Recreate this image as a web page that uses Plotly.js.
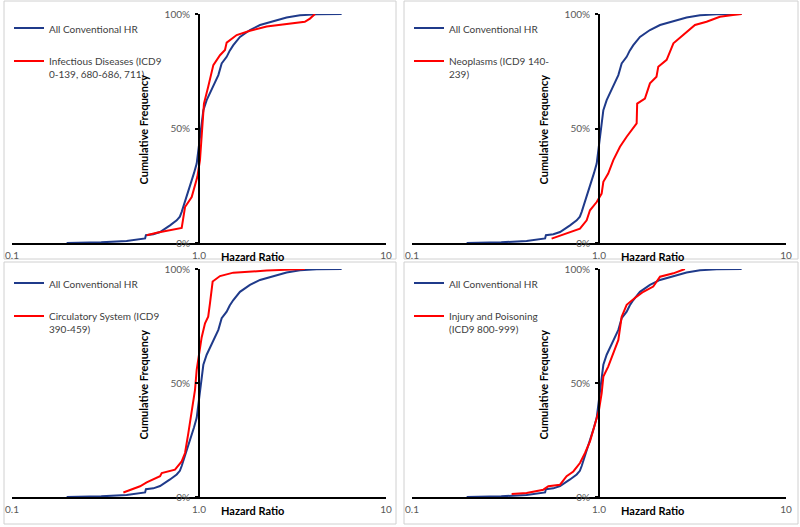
<!DOCTYPE html>
<html>
<head>
<meta charset="utf-8">
<script src="https://cdn.plot.ly/plotly-3.0.1.min.js"></script>
<style>html,body{margin:0;padding:0;background:#fff;}#chart{width:800px;height:527px;}</style>
</head>
<body>
<div id="chart"></div>
<script>
// ---- Data ----
// All conventional hazard ratios (same curve in every panel)
const allHR   = [0.196, 0.30, 0.41, 0.47, 0.515, 0.52, 0.57, 0.619, 0.66, 0.70, 0.76, 0.79, 0.808, 0.83, 0.859, 0.885, 0.914, 0.94, 0.972, 1.0, 1.025, 1.055, 1.099, 1.15, 1.193, 1.269, 1.322, 1.406, 1.46, 1.526, 1.656, 1.75, 1.873, 2.12, 2.3, 2.5, 2.94, 3.47, 4.26, 5.79];
const allFreq = [0.0, 0.003, 0.009, 0.014, 0.02, 0.034, 0.038, 0.048, 0.062, 0.077, 0.099, 0.115, 0.136, 0.165, 0.201, 0.235, 0.267, 0.305, 0.347, 0.42, 0.493, 0.58, 0.624, 0.66, 0.69, 0.733, 0.784, 0.813, 0.84, 0.864, 0.90, 0.915, 0.93, 0.952, 0.96, 0.971, 0.985, 0.994, 0.9985, 1.0];

// Infectious Diseases
const infHR   = [0.525, 0.594, 0.808, 0.842, 0.914, 0.98, 1.012, 1.033, 1.063, 1.12, 1.193, 1.295, 1.377, 1.406, 1.59, 1.873, 2.30, 3.68, 3.92, 4.17];
const infFreq = [0.034, 0.045, 0.066, 0.157, 0.201, 0.289, 0.362, 0.449, 0.609, 0.682, 0.777, 0.82, 0.843, 0.875, 0.908, 0.927, 0.945, 0.966, 0.98, 1.0];

// Neoplasms
const neoHR   = [0.558, 0.671, 0.791, 0.859, 0.895, 0.972, 1.033, 1.055, 1.12, 1.193, 1.295, 1.406, 1.526, 1.59, 1.60, 1.76, 1.873, 2.03, 2.075, 2.30, 2.50, 2.82, 3.13, 3.26, 3.76, 4.17, 4.43, 5.2, 5.79];
const neoFreq = [0.019, 0.041, 0.063, 0.099, 0.143, 0.179, 0.216, 0.267, 0.303, 0.362, 0.42, 0.464, 0.50, 0.522, 0.609, 0.631, 0.697, 0.726, 0.77, 0.80, 0.872, 0.908, 0.937, 0.952, 0.966, 0.98, 0.988, 0.996, 1.0];

// Circulatory System
const cirHR   = [0.394, 0.484, 0.525, 0.619, 0.632, 0.744, 0.808, 0.842, 0.877, 0.914, 0.952, 0.972, 1.012, 1.033, 1.077, 1.12, 1.145, 1.183, 1.295, 1.526, 2.30, 3.68];
const cirFreq = [0.02, 0.047, 0.064, 0.091, 0.105, 0.12, 0.156, 0.193, 0.28, 0.382, 0.47, 0.558, 0.645, 0.70, 0.762, 0.791, 0.85, 0.945, 0.969, 0.984, 0.993, 1.0];

// Injury and Poisoning
const injHR   = [0.341, 0.41, 0.504, 0.536, 0.619, 0.671, 0.729, 0.791, 0.842, 0.895, 0.933, 1.0, 1.033, 1.055, 1.12, 1.193, 1.269, 1.322, 1.406, 1.59, 1.726, 1.95, 2.12, 2.50, 2.88];
const injFreq = [0.013, 0.018, 0.032, 0.047, 0.054, 0.091, 0.112, 0.149, 0.193, 0.244, 0.295, 0.382, 0.455, 0.528, 0.572, 0.631, 0.689, 0.791, 0.843, 0.879, 0.90, 0.923, 0.966, 0.981, 1.0];

const allName = "All Conventional HR";
const groupNames = ["Infectious Diseases (ICD9<br>0-139, 680-686, 711)", "Neoplasms (ICD9 140-<br>239)", "Circulatory System (ICD9<br>390-459)", "Injury and Poisoning<br>(ICD9 800-999)"];
const groupHR = [infHR, neoHR, cirHR, injHR];
const groupFreq = [infFreq, neoFreq, cirFreq, injFreq];
const xTickVals = [0.1, 1, 10];
const xTickText = ["0.1", "1.0", "10"];
const yTickVals = [0, 0.5, 1];

// ---- Layout helpers ----
const W = 800, H = 527;
const px = x => x / W;
const py = y => 1 - y / H;
const FONT = "Lato, 'Open Sans', sans-serif";
const BLUE = "#1f3a8a", RED = "#ff0000";

const panels = [
  {xl: 12,  xr: 386, yt: 14,  yb: 243, box: [4, 1, 396, 259]},
  {xl: 412, xr: 786, yt: 14,  yb: 243, box: [404, 1, 798, 259]},
  {xl: 12,  xr: 386, yt: 269, yb: 497, box: [4, 262, 396, 524]},
  {xl: 412, xr: 786, yt: 269, yb: 497, box: [404, 262, 798, 524]}
];

const data = [];
const layout = {
  width: W, height: H, autosize: false,
  margin: {l: 0, r: 0, t: 0, b: 0},
  paper_bgcolor: "#fff", plot_bgcolor: "rgba(0,0,0,0)",
  font: {family: FONT, size: 10, color: "#595959"},
  shapes: [], annotations: [], showlegend: true
};

panels.forEach((p, i) => {
  const n = i + 1;
  const xa = "x" + (n === 1 ? "" : n), ya = "y" + (n === 1 ? "" : n);
  const lg = "legend" + (n === 1 ? "" : n);
  data.push({x: allHR, y: allFreq, type: "scatter", mode: "lines", name: allName,
    xaxis: xa, yaxis: ya, legend: lg, legendgroup: "a" + n,
    line: {color: BLUE, width: 2}, hoverinfo: "skip"});
  data.push({x: groupHR[i], y: groupFreq[i], type: "scatter", mode: "lines", name: groupNames[i],
    xaxis: xa, yaxis: ya, legend: lg, legendgroup: "b" + n,
    line: {color: RED, width: 2}, hoverinfo: "skip"});

  layout["xaxis" + (n === 1 ? "" : n)] = {
    type: "log", range: [-1, 1], domain: [px(p.xl), px(p.xr)], anchor: ya,
    tickvals: xTickVals, ticktext: xTickText, ticks: "inside", ticklen: 3, tickwidth: 2, tickcolor: "#000",
    showline: true, linecolor: "#000", linewidth: 2, showgrid: false, zeroline: false,
    tickfont: {family: FONT, size: 10, color: "#595959"}, ticklabelstandoff: 2, fixedrange: true
  };
  layout["yaxis" + (n === 1 ? "" : n)] = {
    range: [0, 1], domain: [py(p.yb), py(p.yt)], anchor: "free", position: px((p.xl + p.xr) / 2),
    tickvals: yTickVals, tickformat: ".0%", ticks: "outside", ticklen: 3, tickwidth: 2, tickcolor: "#000",
    showline: true, linecolor: "#000", linewidth: 2, showgrid: false, zeroline: false,
    tickfont: {family: FONT, size: 10, color: "#595959"}, ticklabelstandoff: 3, fixedrange: true
  };
  layout[lg] = {
    x: px(p.xl - 3), y: py(p.yt + 1), xanchor: "left", yanchor: "top",
    bgcolor: "rgba(0,0,0,0)", borderwidth: 0, itemwidth: 30, valign: "top",
    tracegroupgap: 14, traceorder: "grouped",
    font: {family: FONT, size: 10, color: "#404040"}
  };
  layout.shapes.push({type: "rect", xref: "paper", yref: "paper",
    x0: px(p.box[0]), x1: px(p.box[2]), y0: py(p.box[3]), y1: py(p.box[1]),
    line: {color: "#d0d0d0", width: 1}, fillcolor: "rgba(0,0,0,0)", layer: "below"});
  layout.annotations.push({xref: "paper", yref: "paper", x: px(p.xl + 131), y: py(p.yt + 115.5),
    text: "<b>Cumulative Frequency</b>", textangle: -90, showarrow: false,
    xanchor: "center", yanchor: "middle", font: {family: FONT, size: 11, color: "#000"}});
  layout.annotations.push({xref: "paper", yref: "paper", x: px(p.xl + 240), y: py(p.yb + 13),
    text: "<b>Hazard Ratio</b>", showarrow: false,
    xanchor: "center", yanchor: "middle", font: {family: FONT, size: 11, color: "#000"}});
});

Plotly.newPlot("chart", data, layout, {staticPlot: true, displayModeBar: false});
</script>
</body>
</html>
